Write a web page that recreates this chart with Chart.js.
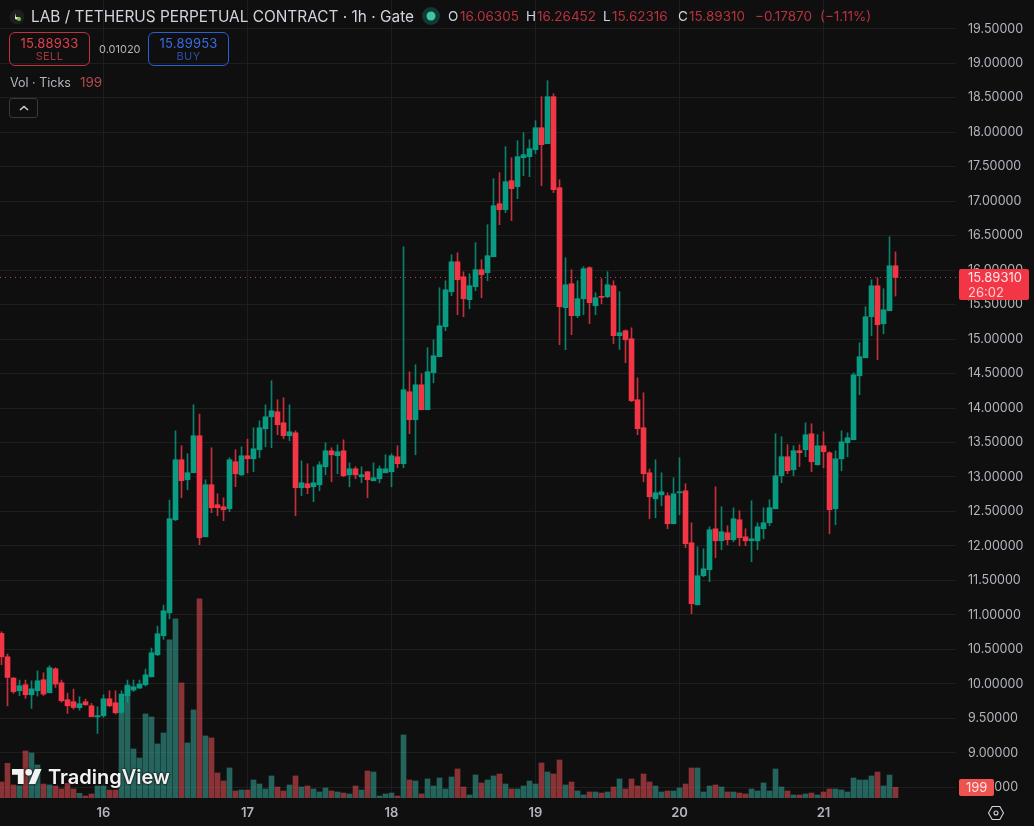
<!DOCTYPE html>
<html>
<head>
<meta charset="utf-8">
<title>LAB / TETHERUS PERPETUAL CONTRACT</title>
<script src="https://cdn.jsdelivr.net/npm/chart.js@4/dist/chart.umd.min.js"></script>
<style>
  html, body { margin: 0; background: #0f0f0f; overflow: hidden; }
  #wrap { position: relative; width: 1034px; height: 826px; font-family: Inter, "Noto Sans", sans-serif; }
  canvas { position: absolute; left: 0; top: 0; }
  .t { position: absolute; white-space: nowrap; }
  .box { position: absolute; top: 32px; width: 79px; height: 32px; border: 1px solid; border-radius: 6px; text-align: center; }
  .box b { display: block; font-weight: 400; font-size: 13px; line-height: 14px; margin-top: 3px; letter-spacing: .2px; }
  .box i { display: block; font-style: normal; font-size: 11px; line-height: 13px; letter-spacing: .4px; }
  .tag { position: absolute; left: 959px; color: #fde6e8; border-radius: 2px; font-size: 13px; padding-left: 9px; box-sizing: border-box; }
  .ohlc { top: 8px; font-size: 13.5px; line-height: 17px; color: #b8323f; }
  .ohlcKey { top: 8px; font-size: 13.5px; line-height: 17px; color: #d1d4dc; }
</style>
</head>
<body>
<div id="wrap">
  <canvas id="grafico" width="1034" height="826"></canvas>

  <!-- cabecalho -->
  <svg class="t" style="left:9px;top:8px" width="18" height="18" viewBox="0 0 18 18">
    <circle cx="8" cy="9" r="7.5" fill="#1c1f1c"/>
    <path d="M6 5l1 4 4 0-2 3-3-1z" fill="#dfe8d0"/>
    <circle cx="10" cy="11" r="2" fill="#6fbf45"/>
  </svg>
  <div class="t" style="left:31px;top:8px;font-size:15.4px;line-height:18px;color:#d1d4dc">LAB / TETHERUS PERPETUAL CONTRACT · 1h · Gate</div>
  <svg class="t" style="left:422px;top:7px" width="18" height="18"><circle cx="9" cy="9" r="9" fill="#123a32"/><circle cx="9" cy="9" r="4.5" fill="#3fc6a0"/></svg>
  <div class="t ohlcKey" style="left:448px">O</div>
  <div class="t ohlc" style="left:460px">16.06305</div>
  <div class="t ohlcKey" style="left:526px">H</div>
  <div class="t ohlc" style="left:537px">16.26452</div>
  <div class="t ohlcKey" style="left:603px">L</div>
  <div class="t ohlc" style="left:612px">15.62316</div>
  <div class="t ohlcKey" style="left:678px">C</div>
  <div class="t ohlc" style="left:689px">15.89310</div>
  <div class="t ohlc" style="left:755px">−0.17870</div>
  <div class="t ohlc" style="left:820px">(−1.11%)</div>

  <div class="box" style="left:9px;border-color:#c4303d"><b style="color:#e0404c">15.88933</b><i style="color:#a5343e">SELL</i></div>
  <div class="t" style="left:99px;top:42px;font-size:11px;line-height:14px;color:#b2b5be">0.01020</div>
  <div class="box" style="left:148px;border-color:#2c5fd6"><b style="color:#3a6be0">15.89953</b><i style="color:#2a4ea5">BUY</i></div>

  <div class="t" style="left:10px;top:74px;font-size:12.5px;line-height:17px;color:#b2b5be">Vol · Ticks</div>
  <div class="t" style="left:80px;top:74px;font-size:13.5px;line-height:17px;color:#b24a4e">199</div>
  <div class="t" style="left:9px;top:98px;width:27px;height:18px;border:1px solid #363a3a;border-radius:3px">
    <svg width="27" height="18"><path d="M10 11l4-3.5 4 3.5" fill="none" stroke="#d1d4dc" stroke-width="1.4"/></svg>
  </div>

  <!-- etiquetas do eixo de precos -->
  <div class="tag" id="tagPreco" style="height:31px;background:#f23645;line-height:15px;padding-top:1px">
    <div id="tagPrecoValor"></div><div style="color:#fbd0d4">26:02</div>
  </div>
  <div class="tag" id="tagVol" style="width:35px;height:17px;background:#ef5350;line-height:17px;padding-left:7px"></div>

  <!-- marca -->
  <svg class="t" style="left:12px;top:769px;filter:drop-shadow(0 0 1.5px #111)" width="30" height="15" viewBox="0 4 36 18">
    <path d="M14 22H7V11H0V4h14v18zM28 22h-8l7.5-18h8L28 22z" fill="#f2f2f2"/><circle cx="20" cy="8" r="4" fill="#f2f2f2"/>
  </svg>
  <div class="t" style="left:48px;top:765px;font-size:20px;line-height:25px;font-weight:600;color:#f2f2f2;text-shadow:0 0 2px #111,0 0 2px #111">TradingView</div>

  <svg class="t" style="left:987px;top:804px" width="18" height="18" viewBox="0 0 18 18" fill="none" stroke="#d1d4dc" stroke-width="1.1">
    <path d="M5.2 2.5h7.6L16.5 9l-3.7 6.5H5.2L1.5 9z"/><circle cx="9" cy="9" r="2"/>
  </svg>
</div>

<script>
// velas de 1h, da esquerda para a direita
const opens = [
  10.732, 10.393, 10.084, 9.900, 9.987, 9.842, 9.900, 10.060, 9.871, 10.219,
  10.016, 9.770, 9.741, 9.654, 9.741, 9.682, 9.520, 9.538, 9.784, 9.726,
  9.586, 9.828, 9.910, 9.939, 9.987, 10.103, 10.422, 10.698, 11.031, 12.380,
  13.250, 12.960, 13.062, 13.598, 12.134, 12.888, 12.598, 12.569, 12.540, 13.221,
  13.032, 13.308, 13.264, 13.395, 13.699, 13.873, 13.946, 13.786, 13.598, 13.641,
  12.844, 12.902, 12.858, 12.887, 13.148, 13.380, 13.308, 13.380, 13.032, 13.119,
  13.003, 13.076, 12.945, 12.974, 13.061, 13.076, 13.293, 13.192, 14.236, 13.830,
  14.337, 13.975, 14.512, 14.744, 15.179, 15.686, 16.121, 15.904, 15.571, 15.759,
  16.006, 15.962, 16.194, 16.963, 16.876, 17.297, 17.210, 17.630, 17.645, 17.746,
  18.065, 17.833, 18.515, 17.195, 15.455, 15.803, 15.339, 15.585, 16.035, 15.484,
  15.615, 15.614, 15.774, 15.049, 15.121, 15.005, 14.120, 13.714, 13.061, 12.684,
  12.742, 12.728, 12.322, 12.771, 12.800, 12.046, 11.147, 11.568, 11.655, 12.249,
  12.075, 12.191, 12.090, 12.380, 12.133, 12.075, 12.075, 12.249, 12.336, 12.539,
  13.018, 13.294, 13.105, 13.381, 13.395, 13.627, 13.178, 13.453, 13.351, 12.539,
  13.264, 13.497, 13.540, 14.468, 14.729, 15.324, 15.773, 15.222, 15.411, 16.06305,
];
const highs = [
  10.756, 10.432, 10.093, 10.055, 10.055, 10.045, 10.190, 10.161, 10.263, 10.234,
  10.055, 9.866, 9.924, 9.813, 9.779, 9.716, 9.668, 9.842, 9.900, 9.900,
  9.900, 10.055, 10.055, 10.055, 10.214, 10.519, 10.838, 11.142, 12.665, 13.671,
  13.453, 13.337, 14.048, 13.913, 12.960, 13.424, 12.757, 12.699, 13.279, 13.395,
  13.438, 13.549, 13.714, 13.815, 14.047, 14.396, 14.120, 14.149, 14.047, 13.670,
  13.235, 13.192, 13.148, 13.221, 13.496, 13.424, 13.467, 13.540, 13.206, 13.148,
  13.148, 13.080, 13.206, 13.163, 13.322, 13.337, 13.453, 16.339, 14.526, 14.628,
  14.497, 14.874, 14.990, 15.744, 15.846, 16.223, 16.252, 15.976, 15.948, 16.397,
  16.151, 16.659, 17.326, 17.413, 17.790, 17.630, 17.877, 17.993, 17.891, 18.167,
  18.515, 18.747, 18.558, 17.311, 16.180, 16.006, 15.846, 16.049, 16.049, 15.672,
  15.875, 15.977, 15.846, 15.687, 15.135, 15.164, 14.439, 14.222, 13.115, 13.250,
  13.061, 12.771, 12.989, 13.279, 12.902, 12.336, 11.988, 11.959, 12.278, 12.858,
  12.568, 12.293, 12.554, 12.510, 12.249, 12.655, 12.336, 12.554, 12.670, 13.627,
  13.584, 13.468, 13.453, 13.468, 13.787, 13.772, 13.613, 13.656, 13.366, 13.380,
  13.670, 13.641, 14.511, 14.947, 15.469, 15.860, 15.889, 15.730, 16.484, 16.26452,
];
const lows = [
  10.277, 9.682, 9.861, 9.828, 9.789, 9.644, 9.823, 9.832, 9.871, 9.948,
  9.736, 9.571, 9.634, 9.620, 9.687, 9.523, 9.281, 9.513, 9.668, 9.562,
  9.571, 9.731, 9.890, 9.930, 9.968, 10.100, 10.408, 10.645, 10.944, 12.366,
  12.699, 12.815, 13.060, 12.018, 12.130, 12.482, 12.438, 12.366, 12.496, 12.859,
  13.018, 13.061, 13.076, 13.279, 13.438, 13.424, 13.612, 13.554, 13.525, 12.438,
  12.728, 12.757, 12.641, 12.800, 13.032, 12.931, 13.047, 13.003, 12.858, 12.974,
  12.916, 12.699, 12.945, 12.916, 13.061, 12.858, 13.134, 13.134, 13.627, 13.322,
  13.975, 13.975, 14.366, 14.744, 15.121, 15.628, 15.353, 15.324, 15.440, 15.701,
  15.600, 15.846, 16.194, 16.659, 16.833, 16.717, 17.036, 17.369, 17.355, 17.688,
  17.224, 17.833, 17.123, 14.918, 14.846, 15.063, 15.310, 15.353, 15.223, 15.353,
  15.513, 15.600, 14.933, 14.850, 14.657, 14.091, 13.613, 12.931, 12.394, 12.409,
  12.583, 12.249, 12.322, 12.452, 11.974, 11.017, 11.147, 11.553, 11.481, 11.829,
  11.945, 12.017, 12.061, 12.003, 12.003, 11.771, 11.945, 12.104, 12.293, 12.539,
  12.916, 13.047, 13.018, 13.149, 13.294, 13.076, 13.170, 13.134, 12.176, 12.307,
  13.090, 13.293, 13.540, 14.192, 14.729, 15.048, 14.700, 15.077, 15.411, 15.62316,
];
const closes = [
  10.393, 10.093, 9.886, 9.973, 9.842, 9.929, 10.045, 9.852, 10.234, 9.997,
  9.755, 9.682, 9.658, 9.712, 9.697, 9.523, 9.540, 9.784, 9.682, 9.581,
  9.852, 9.973, 9.958, 9.997, 10.132, 10.451, 10.727, 11.060, 12.395, 13.250,
  12.946, 13.062, 13.598, 12.119, 12.888, 12.554, 12.554, 12.525, 13.250, 13.047,
  13.308, 13.264, 13.409, 13.714, 13.873, 13.960, 13.757, 13.598, 13.656, 12.844,
  12.916, 12.844, 12.916, 13.177, 13.380, 13.322, 13.366, 13.018, 13.119, 13.032,
  13.032, 12.960, 12.989, 13.119, 13.119, 13.308, 13.192, 14.265, 13.830, 14.337,
  13.975, 14.526, 14.758, 15.193, 15.715, 16.121, 15.860, 15.585, 15.774, 16.006,
  15.933, 16.209, 16.934, 16.876, 17.282, 17.181, 17.645, 17.674, 17.761, 18.065,
  17.819, 18.515, 17.166, 15.469, 15.788, 15.339, 15.585, 16.020, 15.527, 15.600,
  15.605, 15.788, 15.049, 15.092, 14.990, 14.106, 13.700, 13.047, 12.713, 12.771,
  12.786, 12.322, 12.757, 12.786, 12.032, 11.162, 11.568, 11.669, 12.235, 12.075,
  12.206, 12.090, 12.394, 12.119, 12.075, 12.104, 12.278, 12.336, 12.554, 13.018,
  13.294, 13.091, 13.381, 13.352, 13.613, 13.221, 13.453, 13.366, 12.525, 13.264,
  13.511, 13.569, 14.482, 14.744, 15.324, 15.773, 15.208, 15.425, 16.063, 15.8931,
];
// Vol · Ticks
const ticks = [
  299, 647, 243, 230, 877, 840, 616, 261, 243, 224,
  168, 274, 168, 87, 37, 75, 224, 224, 149, 149,
  1766, 2109, 914, 746, 1567, 1511, 1008, 1213, 2948, 3340,
  2146, 1026, 1642, 3713, 1157, 1120, 467, 317, 560, 131,
  149, 149, 336, 261, 168, 411, 205, 131, 243, 411,
  205, 224, 168, 112, 187, 131, 112, 93, 75, 224,
  149, 504, 485, 37, 75, 93, 37, 1176, 336, 317,
  75, 355, 224, 373, 168, 392, 541, 205, 56, 429,
  280, 336, 411, 448, 261, 168, 168, 224, 317, 261,
  653, 485, 448, 709, 243, 299, 131, 56, 112, 112,
  93, 112, 205, 355, 168, 355, 224, 448, 299, 224,
  112, 131, 131, 187, 261, 560, 560, 112, 224, 243,
  205, 112, 112, 93, 75, 168, 131, 280, 131, 541,
  205, 131, 56, 56, 75, 93, 56, 112, 168, 168,
  149, 112, 373, 336, 336, 411, 485, 224, 429, 199,
];
const dayLabels = ['16', '17', '18', '19', '20', '21'];
const dayCandles = [17, 41, 65, 89, 113, 137]; // vela da meia-noite de cada dia
const priceTicks = [8.5, 9, 9.5, 10, 10.5, 11, 11.5, 12, 12.5, 13, 13.5, 14, 14.5, 15, 15.5, 16, 16.5, 17, 17.5, 18, 18.5, 19, 19.5];
const lastPrice = 15.8931;
const lastTicks = 199;

const up = '#0a9c83';
const down = '#f23645';
const upWick = 'rgba(10,156,131,0.8)';
const downWick = 'rgba(242,54,69,0.8)';
const upVol = 'rgba(57,171,159,0.55)';
const downVol = 'rgba(239,82,90,0.55)';
const gridColor = '#1e1e1e';
const axisText = '#b2b5be';

const isUp = closes.map((c, i) => c >= opens[i]);
const candleColors = isUp.map((u) => (u ? up : down));
const wickColors = isUp.map((u) => (u ? upWick : downWick));
const volColors = isUp.map((u) => (u ? upVol : downVol));

const xMin = -0.25;
const xMax = 159.08;

// posiciona as etiquetas do eixo junto aos ultimos valores
const axisTags = {
  id: 'axisTags',
  afterDraw(chart) {
    const preco = document.getElementById('tagPreco');
    preco.style.top = Math.round(chart.scales.price.getPixelForValue(lastPrice) - 8) + 'px';
    preco.style.width = '70px';
    document.getElementById('tagPrecoValor').textContent = lastPrice.toFixed(5);
    const vol = document.getElementById('tagVol');
    vol.style.top = Math.round(chart.scales.vol.getPixelForValue(lastTicks) - 8) + 'px';
    vol.textContent = lastTicks;
  },
};

const ctx = document.getElementById('grafico').getContext('2d');

const grafico = new Chart(ctx, {
  type: 'bar',
  data: {
    datasets: [
      {
        // linha pontilhada do ultimo preco
        type: 'line',
        data: [{ x: xMin, y: lastPrice }, { x: xMax, y: lastPrice }],
        yAxisID: 'price',
        borderColor: 'rgba(242,90,105,0.75)',
        borderWidth: 1,
        borderDash: [1, 4],
        pointRadius: 0,
        order: 4,
      },
      {
        label: 'Vol',
        data: ticks.map((v, i) => ({ x: i, y: v })),
        yAxisID: 'vol',
        backgroundColor: volColors,
        barThickness: 5,
        grouped: false,
        order: 3,
      },
      {
        label: 'Pavio',
        data: highs.map((h, i) => ({ x: i, y: [lows[i], h] })),
        yAxisID: 'price',
        backgroundColor: wickColors,
        barThickness: 1,
        grouped: false,
        order: 2,
      },
      {
        label: 'Corpo',
        data: opens.map((o, i) => ({ x: i, y: [o, closes[i]] })),
        yAxisID: 'price',
        backgroundColor: candleColors,
        barThickness: 5,
        minBarLength: 1,
        grouped: false,
        order: 1,
      },
    ],
  },
  options: {
    responsive: false,
    animation: false,
    events: [],
    layout: { padding: 0 },
    plugins: { legend: { display: false }, tooltip: { enabled: false } },
    scales: {
      x: {
        type: 'linear',
        offset: false,
        min: xMin,
        max: xMax,
        afterBuildTicks(axis) {
          axis.ticks = dayCandles.map((value) => ({ value }));
        },
        afterFit(axis) {
          axis.height = 28;
          axis.paddingLeft = 0;
          axis.paddingRight = 0;
        },
        grid: { color: gridColor, offset: false, drawTicks: false },
        border: { display: false },
        ticks: {
          padding: 7,
          maxRotation: 0,
          autoSkip: false,
          color: axisText,
          font: { family: 'Inter', size: 13, weight: '600' },
          callback: (value) => dayLabels[dayCandles.indexOf(value)],
        },
      },
      price: {
        position: 'right',
        min: 8.345,
        max: 19.917,
        afterBuildTicks(axis) {
          axis.ticks = priceTicks.map((value) => ({ value }));
        },
        afterFit(axis) {
          axis.width = 78;
          axis.paddingTop = 0;
          axis.paddingBottom = 0;
        },
        grid: { color: gridColor, drawTicks: false },
        border: { display: false },
        ticks: {
          padding: 12,
          color: axisText,
          font: { family: 'Inter', size: 12.5 },
          callback: (value) => value.toFixed(5),
        },
      },
      vol: {
        position: 'right',
        display: false,
        min: 0,
        max: 14883,
      },
    },
  },
  plugins: [axisTags],
});
</script>
</body>
</html>
